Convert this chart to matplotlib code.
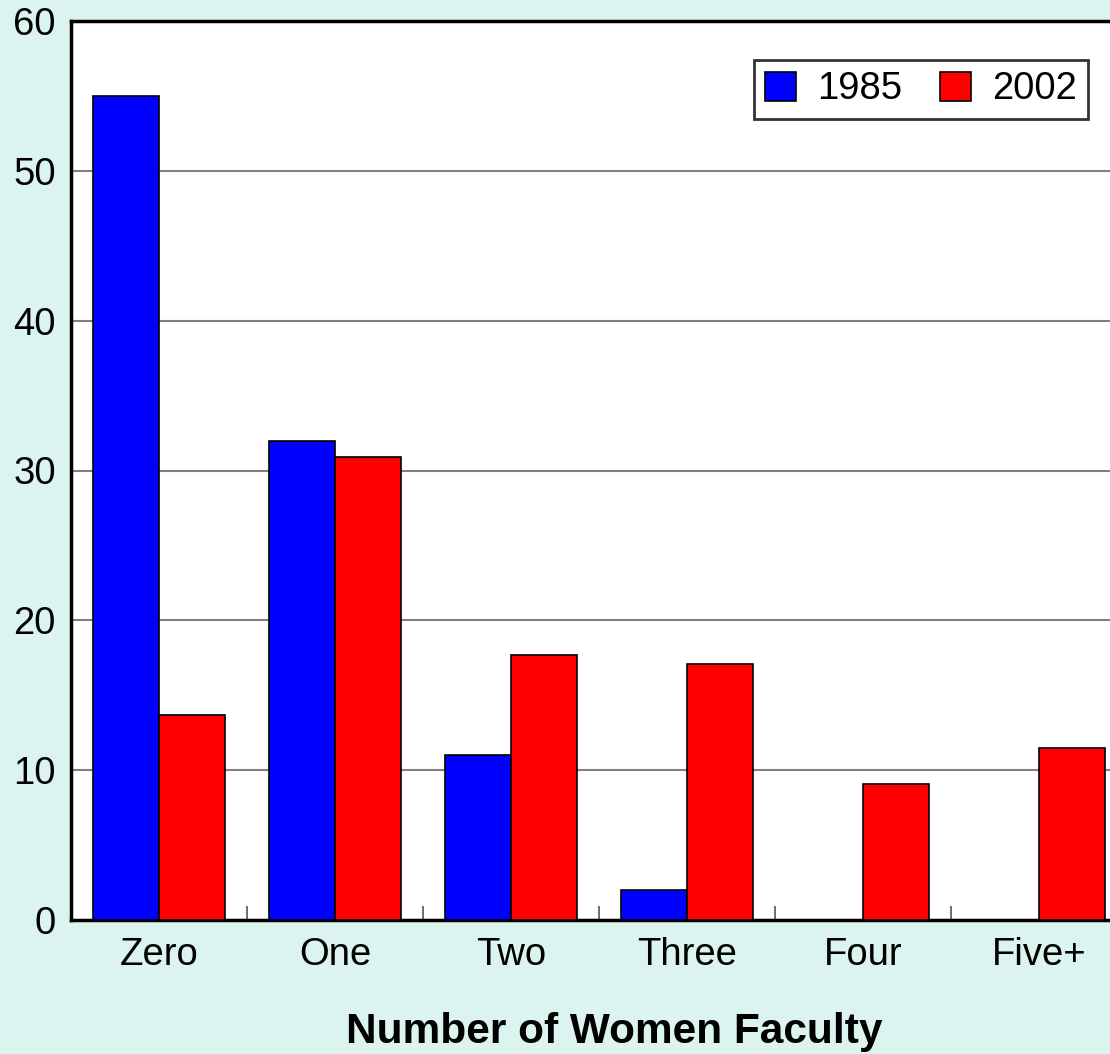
import matplotlib
matplotlib.use("Agg")
import matplotlib.pyplot as plt
import numpy as np

categories = ["Zero", "One", "Two", "Three", "Four", "Five+"]
vals_1985 = [55, 32, 11, 2, 0, 0]
vals_2002 = [13.7, 30.9, 17.7, 17.1, 9.1, 11.5]

plt.rcParams['font.family'] = ['Liberation Sans', 'DejaVu Sans']

bg = '#DCF4EF'
fig = plt.figure(figsize=(11.1, 10.54), dpi=100, facecolor=bg)
ax = fig.add_axes([71/1110, 134/1054, 1056/1110, 899/1054])
ax.set_facecolor('white')

x = np.arange(len(categories))
w = 0.375
ax.bar(x - w/2, vals_1985, w, color='#0000FF', edgecolor='black', linewidth=1.2, label='1985', zorder=3)
ax.bar(x + w/2, vals_2002, w, color='#FF0000', edgecolor='black', linewidth=1.2, label='2002', zorder=3)

ax.set_xlim(-0.5, len(categories) - 0.5)
ax.set_ylim(0, 60)
ax.set_yticks(range(0, 61, 10))
ax.yaxis.grid(True, color='#808080', linewidth=1.5, zorder=0)

# category labels centred, boundary ticks pointing inward
ax.set_xticks(x)
ax.set_xticklabels(categories, fontsize=27.5)
ax.tick_params(axis='x', which='major', length=0, pad=12)
ax.set_xticks(np.arange(0.5, len(categories) - 0.5), minor=True)
ax.tick_params(axis='x', which='minor', direction='in', length=10, width=1.2, color='#555555')
ax.tick_params(axis='y', length=0, labelsize=27.5, pad=11)

for s in ax.spines.values():
    s.set_linewidth(2.5)
    s.set_color('black')

ax.set_xlabel('Number of Women Faculty', fontsize=30.5, fontweight='bold', va='center')
ax.xaxis.set_label_coords((614 - 71) / 1056, (920 - 1032) / 899)

leg = ax.legend(loc='upper right', bbox_to_anchor=((1088 - 71) / 1056, (920 - 60) / 899),
                ncol=2, fontsize=27.5, frameon=True, fancybox=False,
                handlelength=0.8, handleheight=0.8, handletextpad=0.55,
                columnspacing=1.0, borderpad=0.3, borderaxespad=0)
leg.get_frame().set_edgecolor('black')
leg.get_frame().set_linewidth(2)

fig.savefig('out.png', dpi=100, facecolor=bg)
